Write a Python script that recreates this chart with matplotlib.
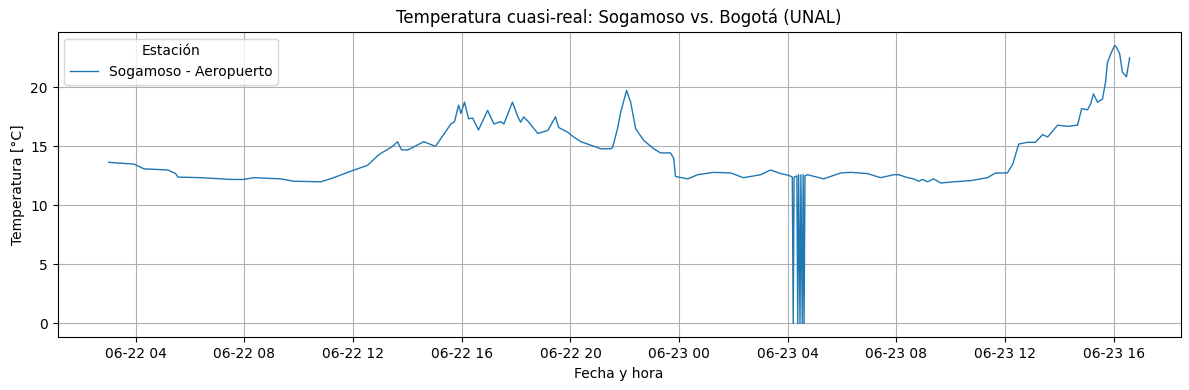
import matplotlib
matplotlib.use("Agg")
import matplotlib.pyplot as plt
import pandas as pd

times = [
    "2025-06-22 03:00", "2025-06-22 03:56", "2025-06-22 04:18", "2025-06-22 05:11", "2025-06-22 05:28",
    "2025-06-22 05:33", "2025-06-22 06:24", "2025-06-22 07:30", "2025-06-22 07:58", "2025-06-22 08:21",
    "2025-06-22 09:20", "2025-06-22 09:49", "2025-06-22 10:49", "2025-06-22 11:17", "2025-06-22 11:55",
    "2025-06-22 12:32", "2025-06-22 12:54", "2025-06-22 13:01", "2025-06-22 13:23", "2025-06-22 13:30",
    "2025-06-22 13:38", "2025-06-22 13:47", "2025-06-22 14:01", "2025-06-22 14:36", "2025-06-22 15:02",
    "2025-06-22 15:20", "2025-06-22 15:36", "2025-06-22 15:44", "2025-06-22 15:53", "2025-06-22 15:58",
    "2025-06-22 16:06", "2025-06-22 16:15", "2025-06-22 16:24", "2025-06-22 16:37", "2025-06-22 16:57",
    "2025-06-22 17:11", "2025-06-22 17:26", "2025-06-22 17:33", "2025-06-22 17:52", "2025-06-22 18:04",
    "2025-06-22 18:10", "2025-06-22 18:17", "2025-06-22 18:28", "2025-06-22 18:48", "2025-06-22 19:10",
    "2025-06-22 19:27", "2025-06-22 19:34", "2025-06-22 19:54", "2025-06-22 20:07", "2025-06-22 20:23",
    "2025-06-22 20:45", "2025-06-22 21:07", "2025-06-22 21:29", "2025-06-22 21:33", "2025-06-22 21:44",
    "2025-06-22 21:51", "2025-06-22 22:04", "2025-06-22 22:13", "2025-06-22 22:24", "2025-06-22 22:42",
    "2025-06-22 23:04", "2025-06-22 23:19", "2025-06-22 23:41", "2025-06-22 23:48", "2025-06-22 23:52",
    "2025-06-23 00:19", "2025-06-23 00:41", "2025-06-23 01:16", "2025-06-23 01:54", "2025-06-23 02:22",
    "2025-06-23 03:00", "2025-06-23 03:22", "2025-06-23 03:44", "2025-06-23 04:02", "2025-06-23 04:10",
    "2025-06-23 04:12", "2025-06-23 04:14", "2025-06-23 04:20", "2025-06-23 04:22", "2025-06-23 04:24",
    "2025-06-23 04:27", "2025-06-23 04:29", "2025-06-23 04:32", "2025-06-23 04:34", "2025-06-23 04:36",
    "2025-06-23 04:38", "2025-06-23 04:44", "2025-06-23 05:19", "2025-06-23 05:57", "2025-06-23 06:19",
    "2025-06-23 06:56", "2025-06-23 07:25", "2025-06-23 07:54", "2025-06-23 08:05", "2025-06-23 08:25",
    "2025-06-23 08:38", "2025-06-23 08:49", "2025-06-23 08:58", "2025-06-23 09:09", "2025-06-23 09:22",
    "2025-06-23 09:38", "2025-06-23 10:06", "2025-06-23 10:44", "2025-06-23 11:21", "2025-06-23 11:39",
    "2025-06-23 12:05", "2025-06-23 12:17", "2025-06-23 12:30", "2025-06-23 12:50", "2025-06-23 13:07",
    "2025-06-23 13:23", "2025-06-23 13:34", "2025-06-23 13:56", "2025-06-23 14:18", "2025-06-23 14:40",
    "2025-06-23 14:49", "2025-06-23 15:02", "2025-06-23 15:09", "2025-06-23 15:15", "2025-06-23 15:24",
    "2025-06-23 15:35", "2025-06-23 15:42", "2025-06-23 15:46", "2025-06-23 15:55", "2025-06-23 16:02",
    "2025-06-23 16:06", "2025-06-23 16:13", "2025-06-23 16:19", "2025-06-23 16:28", "2025-06-23 16:35",
]

temps = [
    13.65, 13.5, 13.1, 13.0, 12.7,
    12.4, 12.35, 12.2, 12.2, 12.35,
    12.25, 12.05, 12.0, 12.35, 12.9,
    13.4, 14.2, 14.4, 14.9, 15.1,
    15.4, 14.7, 14.7, 15.4, 15.0,
    16.0, 16.9, 17.1, 18.5, 17.8,
    18.75, 17.35, 17.4, 16.4, 18.05,
    16.9, 17.1, 16.9, 18.75, 17.5,
    17.05, 17.5, 17.05, 16.1, 16.35,
    17.5, 16.6, 16.2, 15.8, 15.4,
    15.1, 14.8, 14.8, 14.9, 16.5,
    17.9, 19.75, 18.75, 16.5, 15.5,
    14.8, 14.45, 14.45, 14.0, 12.45,
    12.25, 12.6, 12.8, 12.75, 12.35,
    12.6, 13.0, 12.7, 12.55, 12.4,
    0.0, 12.4, 12.5, 0.0, 12.6,
    0.0, 12.6, 0.0, 12.6, 0.0,
    12.5, 12.6, 12.25, 12.75, 12.8,
    12.7, 12.35, 12.6, 12.6, 12.35,
    12.25, 12.05, 12.2, 12.0, 12.25,
    11.9, 12.0, 12.1, 12.35, 12.75,
    12.75, 13.5, 15.2, 15.35, 15.35,
    16.0, 15.8, 16.8, 16.7, 16.8,
    18.2, 18.1, 18.6, 19.45, 18.75,
    19.0, 20.5, 22.1, 23.0, 23.55,
    23.4, 22.85, 21.3, 20.9, 22.5,
]

station = "Sogamoso - Aeropuerto"

df = pd.DataFrame({"fecha": pd.to_datetime(times), "temp": temps})

fig, ax = plt.subplots(figsize=(11.89, 3.9), dpi=100)
ax.plot(df["fecha"], df["temp"], color="#1f77b4", linewidth=1.0, label=station)
ax.set_title("Temperatura cuasi-real: Sogamoso vs. Bogotá (UNAL)")
ax.set_xlabel("Fecha y hora")
ax.set_ylabel("Temperatura [°C]")
ax.grid(True)
ax.legend(title="Estación", loc="upper left")
fig.subplots_adjust(left=0.0484, right=0.993, top=0.919, bottom=0.135)
fig.savefig("out.png", dpi=100)
